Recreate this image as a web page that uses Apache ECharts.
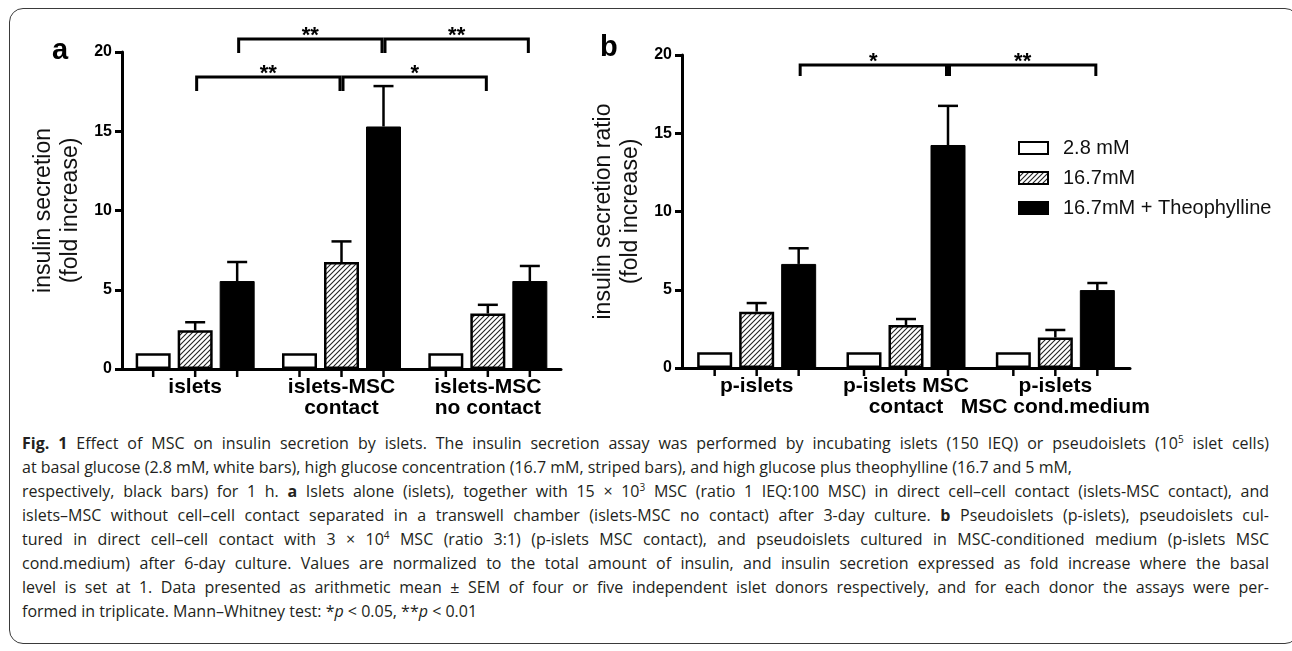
<!DOCTYPE html>
<html>
<head>
<meta charset="utf-8">
<script src="https://cdn.jsdelivr.net/npm/echarts@6/dist/echarts.min.js"></script>
<style>
  html, body { margin: 0; padding: 0; background: #fff; }
  #page { position: relative; width: 1292px; height: 651px; overflow: hidden; background: #fff; }
  #frame { position: absolute; left: 9px; top: 8px; width: 1290px; height: 636px; border: 1.5px solid #3a3a3a; border-radius: 14px; box-sizing: border-box; }
  #chart { position: absolute; left: 0; top: 0; width: 1292px; height: 430px; }
  #caption { position: absolute; left: 22px; top: 431px; width: 1247px; font-family: "Open Sans", "Noto Sans", sans-serif; font-size: 16px; color: #231f20; }
  #caption .ln { height: 24px; line-height: 24px; text-align: justify; text-align-last: justify; white-space: nowrap; }
  #caption .ln.rag { text-align: left; text-align-last: left; }
  #caption sup { font-size: 10px; line-height: 0; vertical-align: 6px; }
</style>
</head>
<body>
<div id="page">
  <div id="frame"></div>
  <div id="chart"></div>
  <div id="caption">
    <div class="ln"><b>Fig. 1</b> Effect of MSC on insulin secretion by islets. The insulin secretion assay was performed by incubating islets (150 IEQ) or pseudoislets (10<sup>5</sup> islet cells)</div>
    <div class="ln rag">at basal glucose (2.8 mM, white bars), high glucose concentration (16.7 mM, striped bars), and high glucose plus theophylline (16.7 and 5 mM,</div>
    <div class="ln">respectively, black bars) for 1 h. <b>a</b> Islets alone (islets), together with 15 × 10<sup>3</sup> MSC (ratio 1 IEQ:100 MSC) in direct cell–cell contact (islets-MSC contact), and</div>
    <div class="ln">islets–MSC without cell–cell contact separated in a transwell chamber (islets-MSC no contact) after 3-day culture. <b>b</b> Pseudoislets (p-islets), pseudoislets cul-</div>
    <div class="ln">tured in direct cell–cell contact with 3 × 10<sup>4</sup> MSC (ratio 3:1) (p-islets MSC contact), and pseudoislets cultured in MSC-conditioned medium (p-islets MSC</div>
    <div class="ln">cond.medium) after 6-day culture. Values are normalized to the total amount of insulin, and insulin secretion expressed as fold increase where the basal</div>
    <div class="ln">level is set at 1. Data presented as arithmetic mean ± SEM of four or five independent islet donors respectively, and for each donor the assays were per-</div>
    <div class="ln rag">formed in triplicate. Mann–Whitney test: *<i>p</i> &lt; 0.05, **<i>p</i> &lt; 0.01</div>
  </div>
</div>
<script>
// ---------- data ----------
const seriesNames = ['2.8 mM', '16.7mM', '16.7mM + Theophylline'];
const yTicks = [0, 5, 10, 15, 20];

const catsA = ['islets', 'islets-MSC\ncontact', 'islets-MSC\nno contact'];
const basalA = [1, 1, 1];
const highA = [2.45, 6.75, 3.5];
const theoA = [5.55, 15.3, 5.55];
const semBasalA = [0, 0, 0];
const semHighA = [0.5, 1.3, 0.55];
const semTheoA = [1.2, 2.55, 0.95];
// significance pairs: [category1, bar1, category2, bar2]
const sigPairsA = [[0, 2, 1, 2], [1, 2, 2, 2], [0, 1, 1, 1], [1, 1, 2, 1]];
const sigTextA = ['**', '**', '**', '*'];

const catsB = ['p-islets', 'p-islets MSC\ncontact', 'p-islets\nMSC cond.medium'];
const basalB = [1, 1, 1];
const highB = [3.6, 2.75, 1.95];
const theoB = [6.65, 14.25, 4.98];
const semBasalB = [0, 0, 0];
const semHighB = [0.55, 0.38, 0.48];
const semTheoB = [1.0, 2.5, 0.45];
const sigPairsB = [[0, 2, 1, 2], [1, 2, 2, 2]];
const sigTextB = ['*', '**'];

// ---------- layout / style ----------
const FONT = '"Liberation Sans", Arial, Helvetica, sans-serif';
const BAR_W = 35, BAR_GAP_PX = 7, STEP = BAR_W + BAR_GAP_PX;
const bracketLevelsA = [[20.82, 19.93], [20.82, 19.93], [18.42, 17.54], [18.42, 17.54]];
const bracketLevelsB = [[19.36, 18.66], [19.36, 18.66]];

function hatchCanvas() {
  const c = document.createElement('canvas');
  c.width = 5; c.height = 5;
  const g = c.getContext('2d');
  g.fillStyle = '#fff'; g.fillRect(0, 0, 5, 5);
  g.strokeStyle = '#222'; g.lineWidth = 1.1;
  g.beginPath(); g.moveTo(-1, 6); g.lineTo(6, -1); g.stroke();
  g.beginPath(); g.moveTo(-1, 1); g.lineTo(1, -1); g.stroke();
  g.beginPath(); g.moveTo(4, 6); g.lineTo(6, 4); g.stroke();
  return c;
}
const hatch = { image: hatchCanvas(), repeat: 'repeat' };

const barStyles = [
  { color: '#fff', borderColor: '#000', borderWidth: 2.5 },
  { color: hatch, borderColor: '#000', borderWidth: 2.5 },
  { color: '#000', borderColor: '#000', borderWidth: 1 }
];

function barSeries(values, idx, axis) {
  return {
    type: 'bar', name: seriesNames[idx], xAxisIndex: axis, yAxisIndex: axis,
    data: values, barWidth: BAR_W, barGap: '20%', silent: true,
    itemStyle: barStyles[idx], z: 2
  };
}

function errData(vals, sems) {
  const out = [];
  for (let c = 0; c < 3; c++) for (let s = 0; s < 3; s++) out.push([c, s, vals[s][c], sems[s][c]]);
  return out;
}

function errRender(params, api) {
  const c = api.value(0), s = api.value(1), m = api.value(2), e = api.value(3);
  const base = api.coord([c, 0]);
  const x = base[0] + (s - 1) * STEP;
  const y0 = base[1];
  const st = { stroke: '#000', lineWidth: 2.5 };
  const children = [{ type: 'line', shape: { x1: x, y1: y0, x2: x, y2: y0 + 8 }, style: st }];
  if (e > 0) {
    const yt = api.coord([c, m])[1];
    const ye = api.coord([c, m + e])[1];
    children.push({ type: 'line', shape: { x1: x, y1: yt, x2: x, y2: ye }, style: st });
    children.push({ type: 'line', shape: { x1: x - 10, y1: ye, x2: x + 10, y2: ye }, style: st });
  }
  return { type: 'group', children };
}

function bracketRender(texts, levels) {
  return function (params, api) {
    const i = params.dataIndex;
    const c1 = api.value(0), s1 = api.value(1), c2 = api.value(2), s2 = api.value(3);
    const x1 = api.coord([c1, 0])[0] + (s1 - 1) * STEP + 1.5;
    const x2 = api.coord([c2, 0])[0] + (s2 - 1) * STEP - 1.5;
    const yL = api.coord([c1, levels[i][0]])[1];
    const yD = api.coord([c1, levels[i][1]])[1];
    return {
      type: 'group',
      children: [
        { type: 'polyline', shape: { points: [[x1, yD], [x1, yL], [x2, yL], [x2, yD]] },
          style: { stroke: '#000', lineWidth: 3, fill: 'none' } },
        { type: 'text', x: (x1 + x2) / 2, y: yL - 3,
          style: { text: texts[i], fontSize: 22, fontWeight: 'bold', fontFamily: FONT, fill: '#000',
                   align: 'center', verticalAlign: 'middle' } }
      ]
    };
  };
}

function xAxisCfg(cats, grid) {
  return {
    type: 'category', gridIndex: grid, data: cats, boundaryGap: true,
    axisLine: { show: true, lineStyle: { color: '#000', width: 3 } },
    axisTick: { show: false },
    axisLabel: { interval: 0, color: '#000', fontSize: 21, fontWeight: 'bold', fontFamily: FONT, lineHeight: 21, margin: 8 },
    splitLine: { show: false }
  };
}
function yAxisCfg(name, grid) {
  return {
    type: 'value', gridIndex: grid, min: yTicks[0], max: yTicks[yTicks.length - 1], interval: 5,
    name: name, nameLocation: 'middle', nameGap: 38, nameRotate: 90,
    nameTextStyle: { fontSize: 23, lineHeight: 27, color: '#111', fontFamily: FONT },
    axisLine: { show: true, lineStyle: { color: '#000', width: 3 } },
    axisTick: { show: true, length: 7, lineStyle: { color: '#000', width: 3 } },
    axisLabel: { color: '#000', fontSize: 16, fontWeight: 'bold', fontFamily: FONT, margin: 10 },
    splitLine: { show: false }
  };
}

const chart = echarts.init(document.getElementById('chart'), null, { renderer: 'canvas' });
chart.setOption({
  animation: false,
  backgroundColor: 'transparent',
  textStyle: { fontFamily: FONT },
  grid: [
    { left: 122, top: 52, width: 439, height: 317 },
    { left: 682, top: 55, width: 448, height: 313 }
  ],
  xAxis: [xAxisCfg(catsA, 0), xAxisCfg(catsB, 1)],
  yAxis: [yAxisCfg('insulin secretion\n(fold increase)', 0), yAxisCfg('insulin secretion ratio\n(fold increase)', 1)],
  legend: {
    data: seriesNames, orient: 'vertical', left: 1013, top: 133,
    itemWidth: 29, itemHeight: 12, itemGap: 10, icon: 'rect', selectedMode: false,
    textStyle: { fontSize: 20, lineHeight: 20, color: '#111', fontFamily: FONT, padding: [0, 0, 0, 10] }
  },
  graphic: [
    { type: 'text', left: 52, top: 36, style: { text: 'a', fontSize: 29, fontWeight: 'bold', fontFamily: FONT, fill: '#000' } },
    { type: 'text', left: 600, top: 33, style: { text: 'b', fontSize: 29, fontWeight: 'bold', fontFamily: FONT, fill: '#000' } }
  ],
  series: [
    barSeries(basalA, 0, 0), barSeries(highA, 1, 0), barSeries(theoA, 2, 0),
    barSeries(basalB, 0, 1), barSeries(highB, 1, 1), barSeries(theoB, 2, 1),
    { type: 'custom', xAxisIndex: 0, yAxisIndex: 0, clip: false, silent: true, z: 5,
      data: errData([basalA, highA, theoA], [semBasalA, semHighA, semTheoA]), renderItem: errRender,
      encode: { x: 0, y: 2 } },
    { type: 'custom', xAxisIndex: 1, yAxisIndex: 1, clip: false, silent: true, z: 5,
      data: errData([basalB, highB, theoB], [semBasalB, semHighB, semTheoB]), renderItem: errRender,
      encode: { x: 0, y: 2 } },
    { type: 'custom', xAxisIndex: 0, yAxisIndex: 0, clip: false, silent: true, z: 6,
      data: sigPairsA, renderItem: bracketRender(sigTextA, bracketLevelsA), encode: { x: 0, y: 1 } },
    { type: 'custom', xAxisIndex: 1, yAxisIndex: 1, clip: false, silent: true, z: 6,
      data: sigPairsB, renderItem: bracketRender(sigTextB, bracketLevelsB), encode: { x: 0, y: 1 } }
  ]
});
</script>
</body>
</html>
